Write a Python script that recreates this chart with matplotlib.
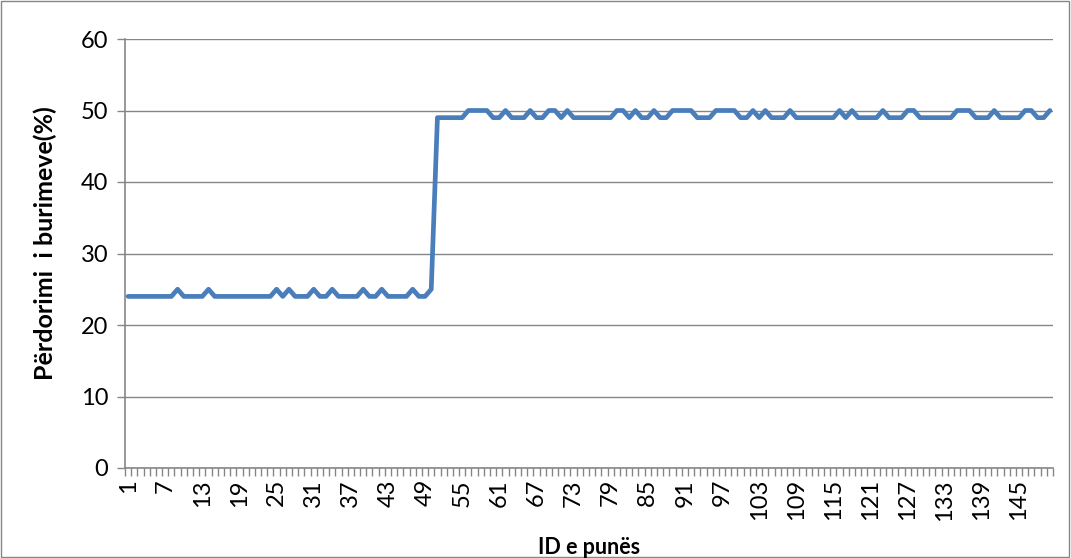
import numpy as np
import matplotlib
matplotlib.use('Agg')
import matplotlib.pyplot as plt
from matplotlib.patches import Rectangle
from matplotlib.ticker import FixedLocator

# resource usage per job id
job_ids = list(range(1, 151))
usage = [
    24, 24, 24, 24, 24, 24, 24, 24, 25, 24,
    24, 24, 24, 25, 24, 24, 24, 24, 24, 24,
    24, 24, 24, 24, 25, 24, 25, 24, 24, 24,
    25, 24, 24, 25, 24, 24, 24, 24, 25, 24,
    24, 25, 24, 24, 24, 24, 25, 24, 24, 25,
    49, 49, 49, 49, 49, 50, 50, 50, 50, 49,
    49, 50, 49, 49, 49, 50, 49, 49, 50, 50,
    49, 50, 49, 49, 49, 49, 49, 49, 49, 50,
    50, 49, 50, 49, 49, 50, 49, 49, 50, 50,
    50, 50, 49, 49, 49, 50, 50, 50, 50, 49,
    49, 50, 49, 50, 49, 49, 49, 50, 49, 49,
    49, 49, 49, 49, 49, 50, 49, 50, 49, 49,
    49, 49, 50, 49, 49, 49, 50, 50, 49, 49,
    49, 49, 49, 49, 50, 50, 50, 49, 49, 49,
    50, 49, 49, 49, 49, 50, 50, 49, 49, 50,
]
xlabels = [1, 7, 13, 19, 25, 31, 37, 43, 49, 55, 61, 67, 73, 79, 85, 91,
           97, 103, 109, 115, 121, 127, 133, 139, 145]
yticks = [0, 10, 20, 30, 40, 50, 60]

plt.rcParams['font.family'] = ['Lato', 'DejaVu Sans']
grey = '#868686'

fig = plt.figure(figsize=(10.71, 5.58), dpi=100)
ax = fig.add_axes([125/1071, 1-468/558, 928/1071, 429/558])

ax.plot(job_ids, usage, color='#4A7EBB', lw=3.4, solid_joinstyle='round',
        solid_capstyle='round', zorder=3)

ax.set_xlim(0.5, len(job_ids)+0.5)
ax.set_ylim(0, 60)
ax.set_yticks(yticks)
ax.yaxis.grid(True, color=grey, lw=1.0)
ax.set_axisbelow(True)

ax.xaxis.set_major_locator(FixedLocator(xlabels))
ax.set_xticklabels([str(v) for v in xlabels], rotation=90)
ax.xaxis.set_minor_locator(FixedLocator(np.arange(0.5, len(job_ids)+1, 1)))
ax.tick_params(axis='x', which='major', length=0, pad=8, labelsize=17)
ax.tick_params(axis='x', which='minor', length=6, width=1, color=grey)
ax.tick_params(axis='y', length=6, width=1, color=grey, pad=6, labelsize=17)

for s in ('top', 'right'):
    ax.spines[s].set_visible(False)
for s in ('left', 'bottom'):
    ax.spines[s].set_color(grey)
    ax.spines[s].set_linewidth(1.2)

fig.text(589/1071, 1-548/558, 'ID e punës', ha='center', va='center',
         fontsize=15.5, fontweight='bold')
fig.text(45/1071, 1-243/558, 'Përdorimi  i burimeve(%)', ha='center', va='center',
         rotation=90, fontsize=18, fontweight='bold')

fig.patches.append(Rectangle((0.0005, 0.001), 0.998, 0.997, transform=fig.transFigure,
                             fill=False, edgecolor=grey, lw=1))

fig.savefig('out.png', dpi=100)
